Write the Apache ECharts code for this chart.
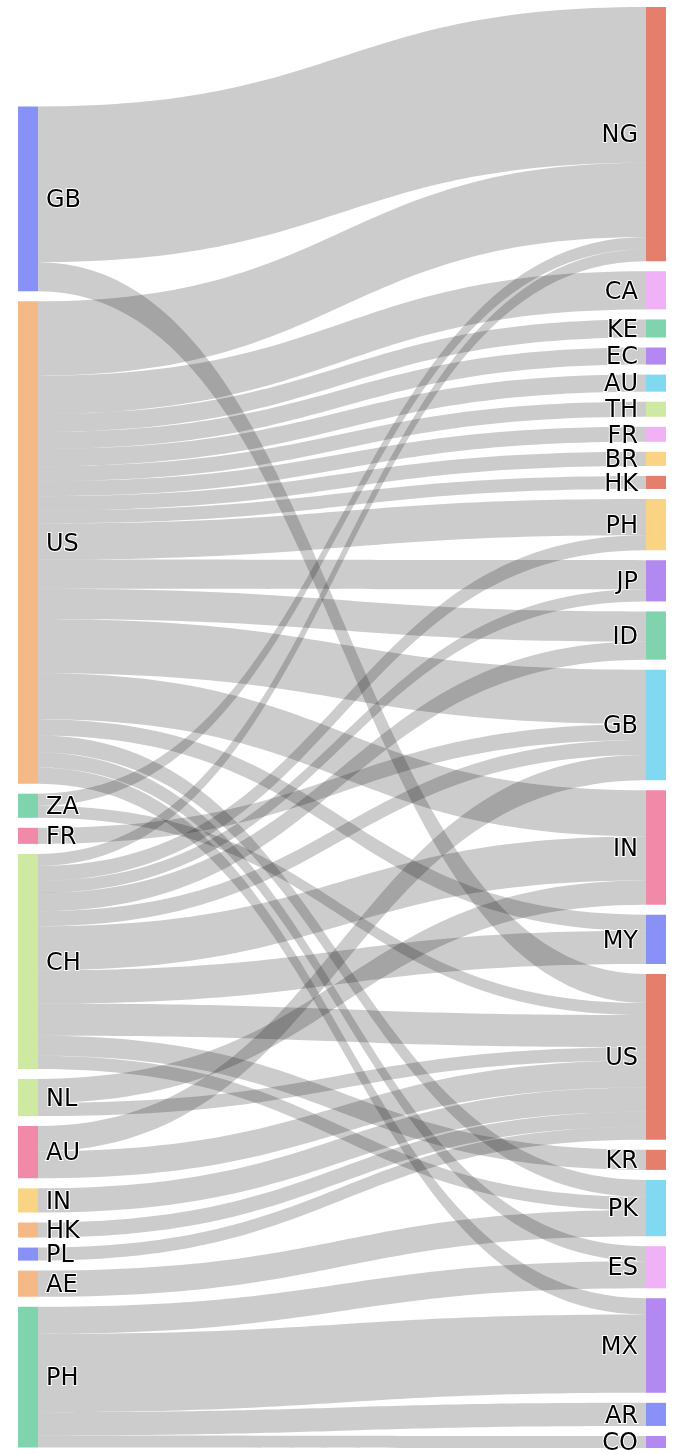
<!DOCTYPE html>
<html><head><meta charset="utf-8">
<script src="https://cdn.jsdelivr.net/npm/echarts@6/dist/echarts.min.js"></script>
<style>html,body{margin:0;padding:0;background:#fff}#c{width:678px;height:1454px}</style>
</head><body><div id="c"></div>
<script>
// ---- data ----
const sourceCountries = ['GB','US','ZA','FR','CH','NL','AU','IN','HK','PL','AE','PH'];
const targetCountries = ['NG','CA','KE','EC','AU','TH','FR','BR','HK','PH','JP','ID','GB','IN','MY','US','KR','PK','ES','MX','AR','CO'];
const linkFrom = ['GB','GB','US','US','US','US','US','US','US','US','US','US','US','US','US','US','US','US','US','US','ZA','ZA','FR','CH','CH','CH','CH','CH','CH','CH','CH','CH','CH','NL','NL','AU','AU','IN','HK','PL','AE','PH','PH','PH','PH'];
const linkTo   = ['NG','US','NG','CA','KE','EC','AU','TH','FR','BR','HK','PH','JP','ID','GB','IN','MY','PK','ES','MX','NG','US','GB','NG','PH','JP','ID','GB','IN','MY','US','KR','PK','IN','US','GB','US','US','US','US','PK','ES','MX','AR','CO'];
const linkValue= [155, 29, 74, 38, 18, 17, 17, 15, 15, 14, 13, 36, 29, 30, 54, 46, 16, 17, 15, 16, 12, 12, 16, 12, 15, 12, 18, 15, 44, 33, 32, 20, 13, 24, 13, 25, 27, 24, 15, 13, 26, 27, 78, 23, 12];

// ---- styles ----
const sourceColors = ['#8891f5','#f5b887','#7fd4ad','#f08aa8','#cde9a2','#cde9a2','#f08aa8','#f9d485','#f5b887','#8891f5','#f5b887','#7fd4ad'];
const targetColors = ['#e57f6c','#f0b2f7','#7fd4ad','#b388f0','#80d9f0','#cde9a2','#f0b2f7','#f9d485','#e57f6c','#f9d485','#b388f0','#7fd4ad','#80d9f0','#f08aa8','#8891f5','#e57f6c','#e57f6c','#80d9f0','#f0b2f7','#b388f0','#8891f5','#b388f0'];
const LEFT_COLUMN_SPACER = 89; // invisible layout spacer pushing the left column down

const S = c => 'src:' + c, T = c => 'dst:' + c;
const labelBase = {show: true, fontFamily: 'DejaVu Sans', fontSize: 24, color: '#000', textBorderColor: '#fff', textBorderWidth: 2, offset: [0, 2]};
const nodes = [];
nodes.push({name: 'spacer', value: LEFT_COLUMN_SPACER, itemStyle: {color: 'rgba(0,0,0,0)', borderWidth: 0}, label: {show: false}, silent: true});
sourceCountries.forEach((c, i) => nodes.push({name: S(c), itemStyle: {color: sourceColors[i]}, label: Object.assign({}, labelBase, {position: 'right', distance: 8})}));
targetCountries.forEach((c, i) => nodes.push({name: T(c), itemStyle: {color: targetColors[i]}, label: Object.assign({}, labelBase, {position: 'left', distance: 8})}));
const links = linkFrom.map((f, i) => ({source: S(f), target: T(linkTo[i]), value: linkValue[i]}));

const chart = echarts.init(document.getElementById('c'), null, {renderer: 'canvas'});
chart.setOption({
  animation: false,
  series: [{
    type: 'sankey',
    left: 18, right: 12, top: 7, bottom: 6,
    nodeWidth: 20, nodeGap: 10,
    layoutIterations: 0,
    nodeAlign: 'left',
    draggable: false,
    emphasis: {disabled: true},
    itemStyle: {borderWidth: 0},
    lineStyle: {color: '#000', opacity: 0.2, curveness: 0.5},
    label: {formatter: p => p.name.split(':')[1] || ''},
    data: nodes,
    links: links
  }]
});
</script></body></html>
